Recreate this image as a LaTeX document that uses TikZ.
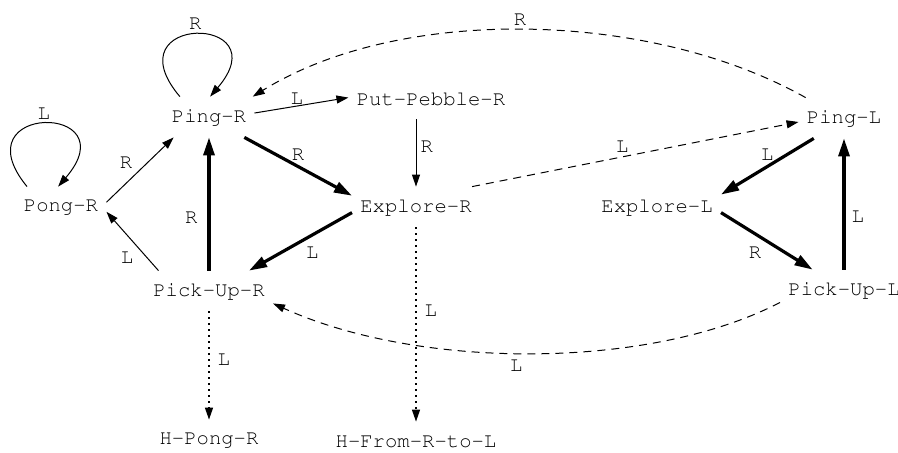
\documentclass[tikz,border=0pt]{standalone}
\usepackage[T1]{fontenc}
\usepackage{courier}
\usetikzlibrary{arrows.meta}

\begin{document}
\begin{tikzpicture}[x=0.5pt, y=-0.5pt,
    state/.style={rectangle, inner xsep=4pt, inner ysep=0pt, minimum height=20pt,
        font=\ttfamily\fontsize{10.3}{12}\selectfont},
    lbl/.style={inner sep=2pt, font=\ttfamily\fontsize{10.3}{12}\selectfont},
    move/.style={line width=0.5pt, -{Triangle[length=6pt,width=4pt]}},
    heavy/.style={line width=1.6pt, -{Triangle[length=9pt,width=5.5pt]}},
    jump/.style={line width=0.5pt, dash pattern=on 4pt off 3pt, -{Triangle[length=6pt,width=4pt]}},
    halt/.style={line width=0.7pt, dash pattern=on 0.6pt off 2.4pt, -{Triangle[length=6pt,width=4pt]}}]
    \useasboundingbox (0,0) rectangle (898,452);

    \node [state] at (61,207)  (pongR)      {Pong-R};
    \node [state] at (209,117) (pingR)      {Ping-R};
    \node [state] at (431,99)  (putPebbleR) {Put-Pebble-R};
    \node [state] at (416,207) (exploreR)   {Explore-R};
    \node [state] at (209,291) (pickUpR)    {Pick-Up-R};
    \node [state] at (209,440) (hPongR)     {H-Pong-R};
    \node [state] at (416,442) (hFromRtoL)  {H-From-R-to-L};
    \node [state] at (844,118) (pingL)      {Ping-L};
    \node [state] at (657,207) (exploreL)   {Explore-L};
    \node [state] at (844,290) (pickUpL)    {Pick-Up-L};

    % right-hand half
    \draw [move] (pongR.149) .. controls +(-69,-84) and +(72,-84) .. (pongR.98) node [lbl, midway, above] {L};
    \draw [move] (pingR.145) .. controls +(-70,-83) and +(71,-83) .. (pingR.87) node [lbl, midway, above] {R};
    \draw [move] (pongR.6) -- (pingR.210) node [lbl, pos=0.45, above left] {R};
    \draw [move] (pickUpR.158) -- (pongR.-6) node [lbl, pos=0.4, below left] {L};
    \draw [heavy] (pickUpR) -- (pingR) node [lbl, pos=0.4, left=3pt] {R};
    \draw [move] (pingR.5) -- (putPebbleR.179) node [lbl, pos=0.45, above, inner sep=0.5pt] {L};
    \draw [heavy] (pingR.-30) -- (exploreR.170) node [lbl, midway, above] {R};
    \draw [move] (putPebbleR.south -| exploreR) -- (exploreR) node [lbl, pos=0.4, right] {R};
    \draw [heavy] (exploreR.185) -- (pickUpR.27) node [lbl, midway, below right] {L};
    \draw [halt] (pickUpR) -- (hPongR) node [lbl, pos=0.45, right=2pt] {L};
    \draw [halt] (exploreR) -- (hFromRtoL) node [lbl, pos=0.43, right=2pt] {L};

    % crossing over
    \draw [jump] (exploreR.20) -- (pingL.185) node [lbl, pos=0.46, above] {L};
    \draw [jump] (pingL.152) .. controls (650,10) and (400,5) .. (pingR.25) node [lbl, pos=0.51, above] {R};
    \draw [jump] (pickUpL.191) .. controls (650,370) and (420,370) .. (pickUpR.-11) node [lbl, pos=0.53, below=1pt] {L};

    % left-hand half
    \draw [heavy] (pingL.214) -- (exploreL.11) node [lbl, midway, above] {L};
    \draw [heavy] (exploreL.-5) -- (pickUpL.147) node [lbl, midway, below left] {R};
    \draw [heavy] (pickUpL) -- (pingL) node [lbl, pos=0.4, right=1pt] {L};
\end{tikzpicture}
\end{document}
